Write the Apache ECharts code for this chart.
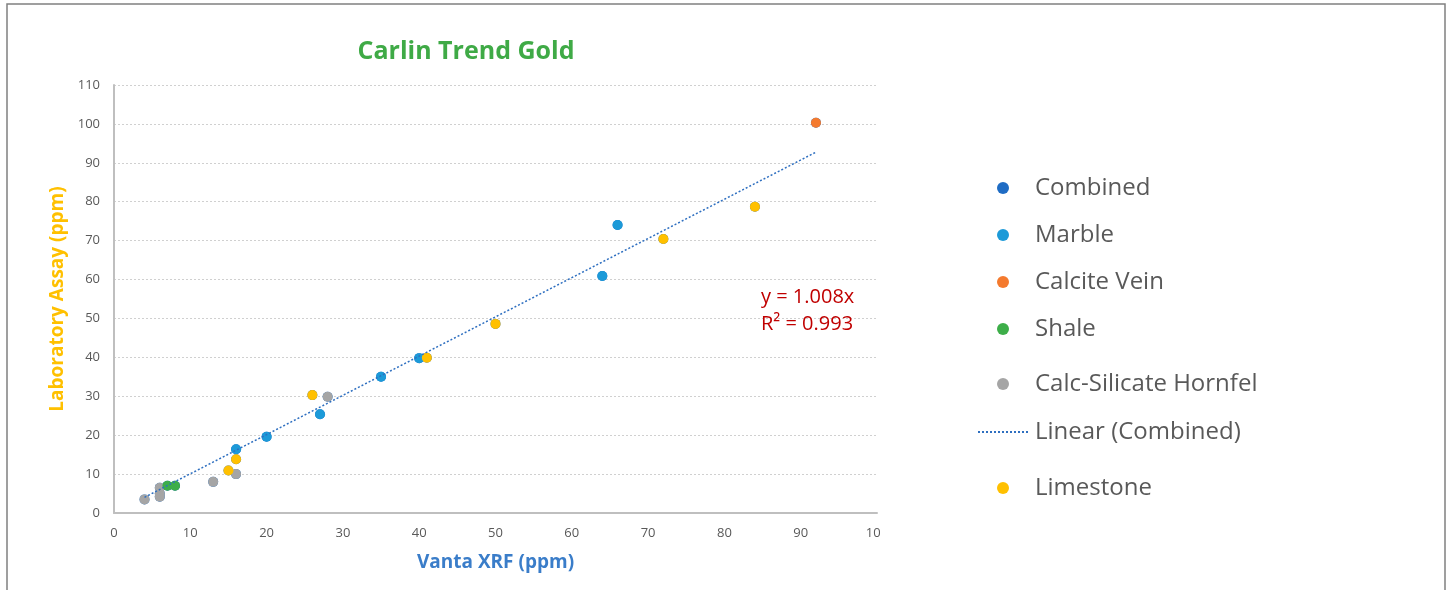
<!DOCTYPE html>
<html>
<head>
<meta charset="utf-8">
<script src="https://cdn.jsdelivr.net/npm/echarts@6/dist/echarts.min.js"></script>
<style>
html,body{margin:0;padding:0;background:#fff;}
#chart{width:1448px;height:590px;}
</style>
</head>
<body>
<div id="chart"></div>
<script>
// ---- data ----
const titleText = 'Carlin Trend Gold';
const xAxisName = 'Vanta XRF (ppm)';
const yAxisName = 'Laboratory Assay (ppm)';
const seriesNames = ['Combined', 'Marble', 'Calcite Vein', 'Shale', 'Calc-Silicate Hornfel', 'Linear (Combined)', 'Limestone'];

const marble = [[16, 16.4], [20, 19.6], [27, 25.4], [35, 35], [40, 39.8], [64, 60.9], [66, 74]];
const calciteVein = [[92, 100.3]];
const shale = [[7, 7.0], [8, 7.0]];
const hornfel = [[4, 3.5], [6, 6.5], [6, 5.0], [6, 4.2], [13, 8.0], [16, 10.0], [28, 29.9]];
const limestone = [[15, 10.9], [16, 13.8], [26, 30.3], [41, 39.9], [50, 48.6], [72, 70.4], [84, 78.7]];
const combined = [].concat(marble, calciteVein, shale, hornfel, limestone);

const trendSlope = 1.008;
const trendR2 = 0.993;
const trendXRange = [4, 92];

const xTicks = { min: 0, max: 100, interval: 10 };
const yTicks = { min: 0, max: 110, interval: 10 };

// ---- chart ----
const FONT = '"Open Sans", "Noto Sans", sans-serif';
const colors = {
  'Combined': '#1F6CC4',
  'Marble': '#1C9AD8',
  'Calcite Vein': '#F47A2E',
  'Shale': '#3DAE49',
  'Calc-Silicate Hornfel': '#A5A5A5',
  'Linear (Combined)': '#2E6FC0',
  'Limestone': '#FFC000'
};

const trendData = trendXRange.map(x => [x, trendSlope * x]);

const legendTops = [186, 233, 280, 327, 382, 430, 486];
const legends = seriesNames.map((n, i) => {
  const isLine = n === 'Linear (Combined)';
  const lg = {
    data: [n],
    left: isLine ? 977 : 997,
    top: legendTops[i] - 15,
    orient: 'vertical',
    itemWidth: 50,
    itemHeight: 12,
    selectedMode: false,
    textStyle: { fontFamily: FONT, fontSize: 24, color: '#595959', lineHeight: 34, padding: [0, 0, 0, 2] },
    padding: [0, 0, 0, 0]
  };
  if (isLine) lg.itemStyle = { opacity: 0 };
  return lg;
});

function scatter(name, data, z) {
  return {
    name: name,
    type: 'scatter',
    data: data,
    symbol: 'circle',
    symbolSize: 10,
    z: z,
    itemStyle: { color: colors[name], opacity: 1 },
    emphasis: { disabled: true }
  };
}

const option = {
  animation: false,
  title: {
    text: titleText,
    left: 461,
    textAlign: 'center',
    top: 34,
    textStyle: { fontFamily: FONT, fontSize: 25, fontWeight: 'bold', color: '#3FAA46' }
  },
  legend: legends,
  grid: { left: 114, right: 571, top: 85, bottom: 77, containLabel: false },
  xAxis: {
    type: 'value',
    min: xTicks.min, max: xTicks.max, interval: xTicks.interval,
    name: xAxisName,
    nameLocation: 'middle',
    nameGap: 40,
    nameTextStyle: { fontFamily: FONT, fontSize: 19, fontWeight: 'bold', color: '#3A7DC9' },
    axisLine: { show: true, onZero: false, lineStyle: { color: '#BFBFBF', width: 2 } },
    axisTick: { show: false },
    splitLine: { show: false },
    axisLabel: { fontFamily: FONT, fontSize: 13, color: '#595959', margin: 14 }
  },
  yAxis: {
    type: 'value',
    min: yTicks.min, max: yTicks.max, interval: yTicks.interval,
    name: yAxisName,
    nameLocation: 'middle',
    nameGap: 42,
    nameRotate: 90,
    nameTextStyle: { fontFamily: FONT, fontSize: 19, fontWeight: 'bold', color: '#FFC000' },
    axisLine: { show: true, onZero: false, lineStyle: { color: '#BFBFBF', width: 2 } },
    axisTick: { show: false },
    splitLine: { show: true, lineStyle: { color: '#D0D0D0', type: [2, 2], width: 1 } },
    axisLabel: { fontFamily: FONT, fontSize: 13, color: '#595959', margin: 14 }
  },
  series: [
    scatter('Combined', combined, 1),
    scatter('Marble', marble, 3),
    scatter('Calcite Vein', calciteVein, 3),
    scatter('Shale', shale, 4),
    scatter('Calc-Silicate Hornfel', hornfel, 3),
    {
      name: 'Linear (Combined)',
      type: 'line',
      data: trendData,
      symbol: 'none',
      showSymbol: false,
      z: 5,
      lineStyle: { color: colors['Linear (Combined)'], width: 1.5, type: [2, 2] },
      itemStyle: { color: colors['Linear (Combined)'] },
      emphasis: { disabled: true }
    },
    scatter('Limestone', limestone, 3)
  ],
  graphic: [
    {
      type: 'rect',
      shape: { x: 7, y: 4, width: 1438, height: 600 },
      style: { fill: 'none', stroke: '#808080', lineWidth: 1.5 },
      silent: true, z: 100
    },
    {
      type: 'rect',
      shape: { x: 881, y: 520, width: 30, height: 30 },
      style: { fill: '#ffffff' },
      silent: true, z: 100
    },
    {
      type: 'text',
      left: 761, top: 284,
      style: {
        text: 'y = ' + trendSlope.toFixed(3) + 'x\nR² = ' + trendR2.toFixed(3),
        fontFamily: FONT, fontSize: 20, fill: '#C00000', lineHeight: 27
      },
      silent: true, z: 100
    }
  ]
};

echarts.init(document.getElementById('chart'), null, { renderer: 'canvas' }).setOption(option);
</script>
</body>
</html>
